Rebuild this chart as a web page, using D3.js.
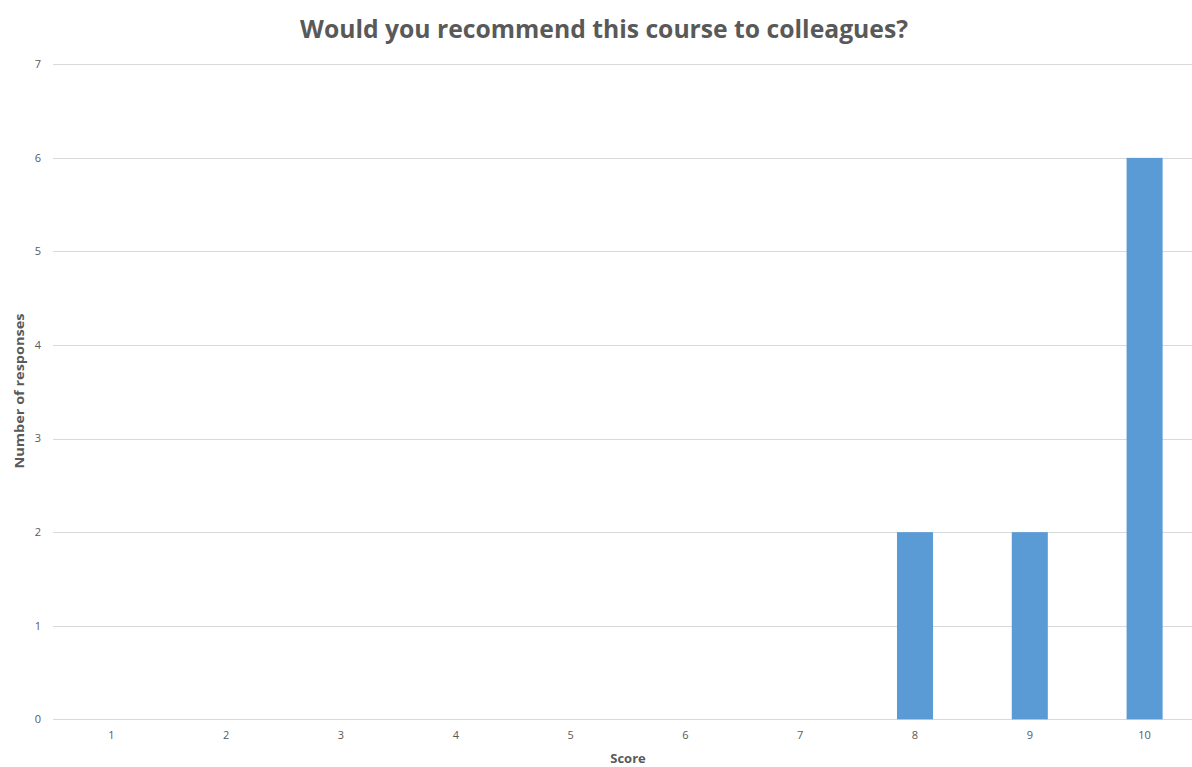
<!DOCTYPE html>
<html><head><meta charset="utf-8">
<script src="https://cdn.jsdelivr.net/npm/d3@7"></script>
<style>body{margin:0;background:#fff;}svg{display:block;font-family:"Open Sans","Noto Sans",sans-serif;}</style>
</head><body>
<script>
const categories = ["1","2","3","4","5","6","7","8","9","10"];
const values = [0,0,0,0,0,0,0,2,2,6];
const yTicks = [0,1,2,3,4,5,6,7];
const title = "Would you recommend this course to colleagues?";
const xTitle = "Score";
const yTitle = "Number of responses";

const W = 1192, H = 767;
const svg = d3.select("body").append("svg").attr("width", W).attr("height", H);

const x = d3.scaleBand().domain(categories).range([54, 1202]).paddingInner(0.686).paddingOuter(0.343);
const y = d3.scaleLinear().domain([0, 7]).range([719.3, 64.3]);

// gridlines
svg.append("g").selectAll("line").data(yTicks).join("line")
  .attr("x1", 53).attr("x2", W)
  .attr("y1", d => Math.round(y(d)) + 0.5).attr("y2", d => Math.round(y(d)) + 0.5)
  .attr("stroke", "#d9d9d9").attr("stroke-width", 1);

// y tick labels
svg.append("g").selectAll("text").data(yTicks).join("text")
  .attr("x", 41).attr("y", d => y(d)).attr("dy", "0.35em")
  .attr("text-anchor", "end").attr("font-size", 11).attr("fill", "#595959")
  .text(d => d);

// bars
svg.append("g").selectAll("rect").data(values).join("rect")
  .attr("x", (d, i) => x(categories[i])).attr("width", x.bandwidth())
  .attr("y", d => y(d)).attr("height", d => y(0) - y(d))
  .attr("fill", "#5b9bd5");

// x tick labels
svg.append("g").selectAll("text").data(categories).join("text")
  .attr("x", d => x(d) + x.bandwidth() / 2).attr("y", 739)
  .attr("text-anchor", "middle").attr("font-size", 11).attr("fill", "#595959")
  .text(d => d);

// titles
svg.append("text").attr("x", 604).attr("y", 38).attr("text-anchor", "middle")
  .attr("font-size", 25).attr("font-weight", "bold").attr("fill", "#595959")
  .attr("textLength", 608).attr("lengthAdjust", "spacingAndGlyphs").text(title);

svg.append("text").attr("x", 628).attr("y", 763).attr("text-anchor", "middle")
  .attr("font-size", 13).attr("font-weight", "bold").attr("fill", "#595959").text(xTitle);

svg.append("text").attr("transform", "translate(24,391) rotate(-90)").attr("text-anchor", "middle")
  .attr("font-size", 13).attr("font-weight", "bold").attr("fill", "#595959")
  .attr("textLength", 155).attr("lengthAdjust", "spacingAndGlyphs").text(yTitle);
</script>
</body></html>
